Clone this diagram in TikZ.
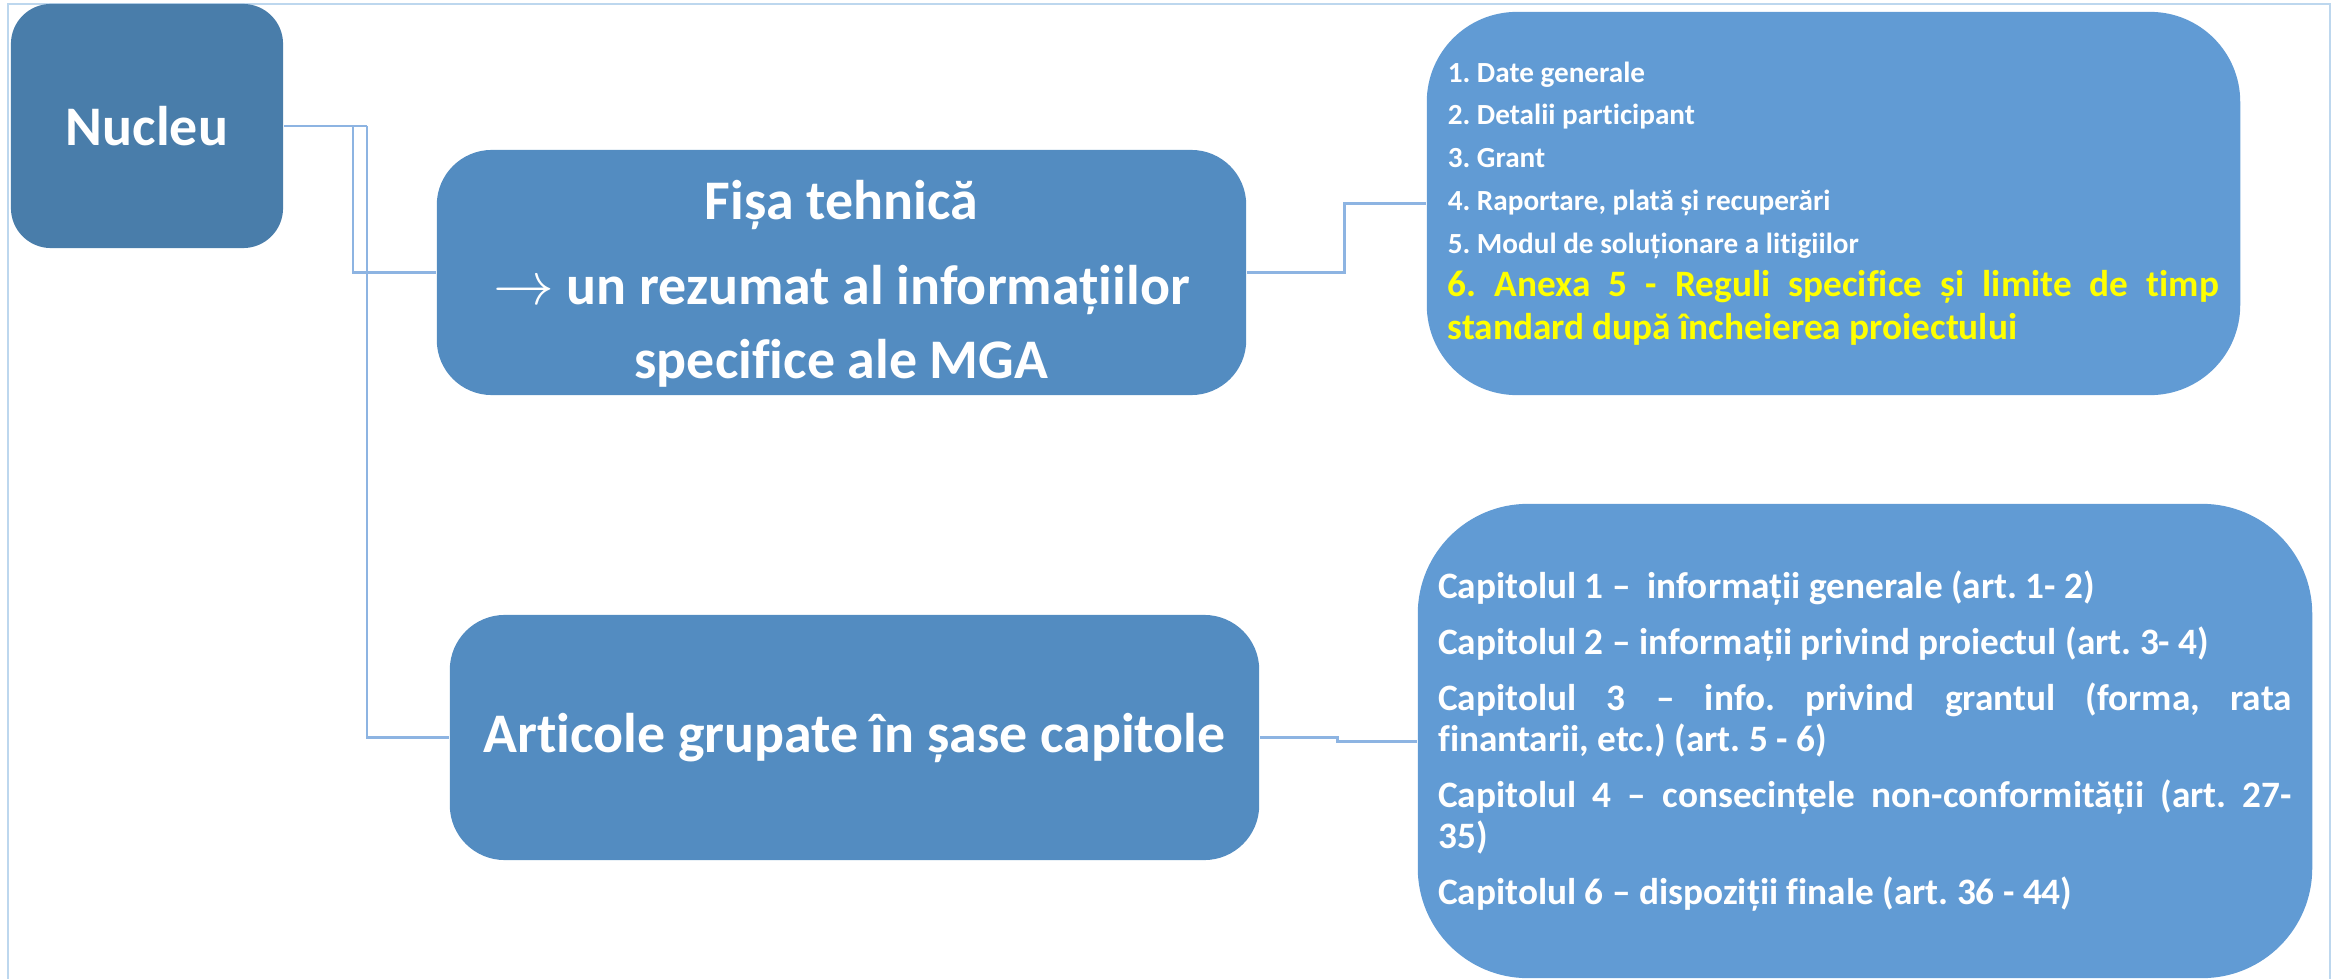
\documentclass[tikz,border=0pt]{standalone}
\usepackage{fontspec}
\setmainfont{Carlito}[Ligatures=NoCommon]
\usepackage{tikz}
\usepackage{xcolor}
\usetikzlibrary{positioning}
\frenchspacing

\definecolor{nucblue}{RGB}{73,125,170}
\definecolor{midblue}{RGB}{83,140,193}
\definecolor{listblue}{RGB}{97,155,212}
\definecolor{linkblue}{RGB}{141,180,226}
\definecolor{framecol}{RGB}{189,215,238}
\definecolor{anexa}{RGB}{255,255,0}

\tikzset{
  box/.style={rounded corners=0.55cm, fill=midblue, text=white, align=center,
    font={\bfseries\fontsize{15.9}{21.3}\selectfont}},
  listbox/.style={fill=listblue, text=white, align=justify, inner xsep=0.2cm},
  link/.style={draw=linkblue, line width=0.85pt}
}

\begin{document}
\begin{tikzpicture}[x=0.01cm,y=-0.01cm]
                \useasboundingbox (0,0) rectangle (2336,979);
                \draw[framecol, line width=0.8pt] (8,979) -- (8,4) -- (2330,4) -- (2330,979);
                % boxes
                \node[box, fill=nucblue, minimum width=2.72cm, minimum height=2.44cm, rounded corners=0.4cm] (nucleu) at (147,126) {Nucleu};
                \node[box, minimum width=8.09cm, minimum height=2.45cm, inner ysep=0pt] (fisa) at (841.5,272.5)
                    {\rule{0pt}{0.62cm}Fișa tehnică\\[2.8pt] $\rightarrow$ un rezumat al informațiilor\\ specifice ale MGA};
                \node[box, minimum width=8.09cm, minimum height=2.45cm] (articole) at (854.5,737.5) {Articole grupate în șase capitole};
                \node[listbox, minimum width=8.13cm, minimum height=3.83cm, text width=7.71cm, rounded corners=0.9cm] (date) at (1833.5,203.5)
                    {\bfseries\setlength{\parskip}{0pt}\fontsize{8.3}{12.2}\selectfont
                     1. Date generale\par
                     2. Detalii participant\par
                     3. Grant\par
                     4. Raportare, plată și recuperări\par
                     5. Modul de soluționare a litigiilor\par
                     {\color{anexa}\fontsize{10.6}{12.2}\selectfont 6. Anexa 5 - Reguli specifice și limite de timp\linebreak standard după încheierea proiectului\par}};
                \node[listbox, minimum width=8.94cm, minimum height=4.74cm, text width=8.53cm, rounded corners=1.1cm] (capitole) at (1865,741)
                    {\bfseries\setlength{\parskip}{4.2pt}\fontsize{10.6}{11.7}\selectfont
                     Capitolul 1 – \ informații generale (art. 1- 2)\par
                     Capitolul 2 – informații privind proiectul (art. 3- 4)\par
                     Capitolul 3 – info. privind grantul (forma, rata\linebreak finantarii, etc.) (art. 5 - 6)\par
                     Capitolul 4 – consecințele non-conformității (art. 27-\linebreak 35)\par
                     Capitolul 6 – dispoziții finale (art. 36 - 44)\par};
                % connectors
                \coordinate (j1) at (353,126);
                \coordinate (j2) at (367,126);
                \draw[link] (nucleu.east) -- (j2);
                \draw[link] (j1) |- (fisa.west);
                \draw[link] (j2) |- (articole.west);
                \draw[link] (fisa.east) -- ++(98,0) |- (date.west);
                \draw[link] (articole.east) -- ++(78,0) |- (capitole.west);
            \end{tikzpicture}
\end{document}
